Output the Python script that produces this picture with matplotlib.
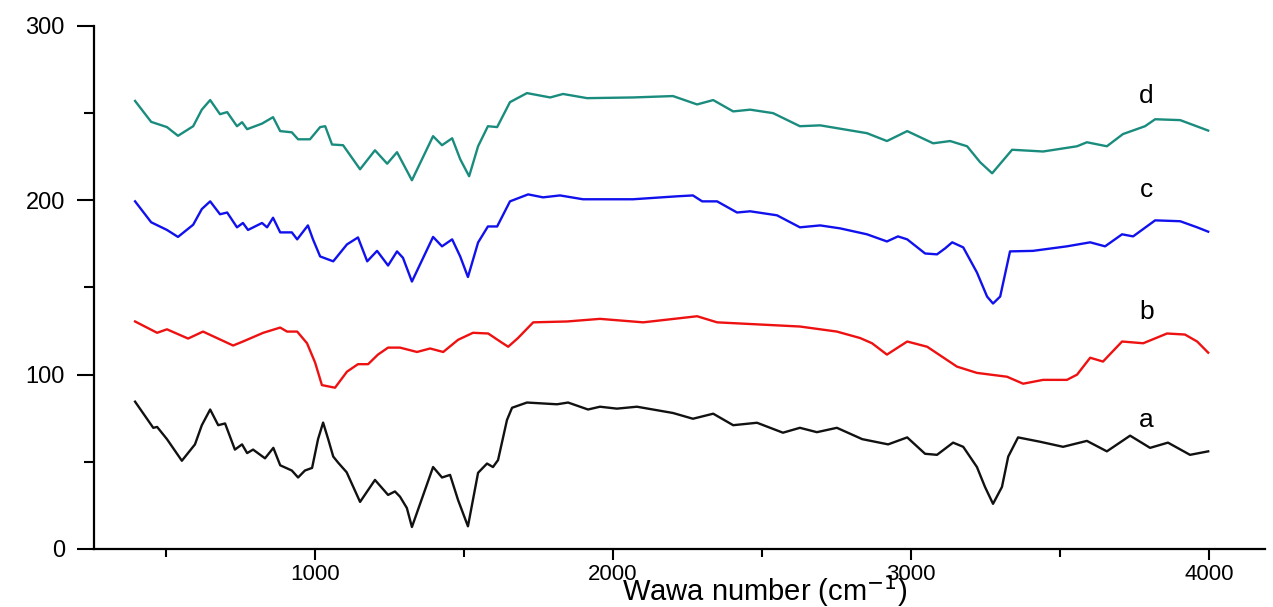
import matplotlib.pyplot as plt
from matplotlib.ticker import MultipleLocator

plt.rcParams['font.family'] = ['Liberation Sans', 'DejaVu Sans']

# spectrum a (black)
a_x = [396, 457, 470, 503, 553, 597, 620, 648, 675, 698, 731, 755, 772, 792, 832, 860,
       883, 922, 943, 966, 990, 1010, 1027, 1044, 1061, 1078, 1106, 1151, 1201, 1245,
       1268, 1285, 1308, 1325, 1396, 1426, 1453, 1480, 1513, 1547, 1577, 1597, 1614,
       1644, 1661, 1711, 1812, 1849, 1916, 1956, 2013, 2080, 2201, 2268, 2336, 2403,
       2483, 2570, 2627, 2684, 2751, 2836, 2923, 2987, 3047, 3087, 3141, 3175, 3221,
       3248, 3275, 3305, 3326, 3359, 3433, 3510, 3590, 3657, 3735, 3802, 3862, 3936, 3997]
a_y = [84.5, 69.5, 70, 63, 50.6, 60, 71, 80, 71, 72, 57, 60, 55, 57, 52, 58,
       48, 45, 41, 45, 46.5, 63, 72.5, 63, 53, 49.4, 44, 27, 39.6, 31,
       33, 30, 23.5, 12.6, 47, 41, 42.5, 28, 13, 43.7, 49, 47, 51,
       74, 81, 84, 83, 84, 80, 81.6, 80.5, 81.6, 78, 74.7, 77.6, 71,
       72.4, 66.7, 69.5, 67, 69.5, 63, 60, 64, 54.6, 54, 61, 58.6, 47,
       35.6, 25.9, 35.6, 53, 64, 61.5, 58.6, 62, 56, 65, 58, 61, 54, 56]

# spectrum b (red)
b_x = [396, 470, 503, 574, 624, 725, 758, 826, 883, 906, 940, 973, 1000, 1023, 1067,
       1107, 1144, 1178, 1211, 1245, 1285, 1342, 1386, 1430, 1480, 1530, 1581, 1621,
       1648, 1681, 1732, 1846, 1956, 2101, 2282, 2349, 2627, 2751, 2829, 2869, 2919,
       2987, 3054, 3154, 3221, 3322, 3376, 3443, 3523, 3557, 3601, 3644, 3708, 3779,
       3859, 3919, 3960, 3997]
b_y = [130.5, 124, 126, 120.7, 124.7, 116.7, 119, 124, 127, 124.7, 124.7, 118, 107, 94, 92.5,
       101.7, 106, 106, 111.5, 115.5, 115.5, 113, 115, 113, 120, 124, 123.6, 119,
       116, 121, 130, 130.5, 132, 130, 133.5, 130, 127.6, 124.7, 121, 118, 111.5,
       119, 116, 104.6, 101, 98.8, 94.8, 97, 97, 100, 109.7, 107.5, 119, 118,
       123.6, 123, 119, 112.6]

# spectrum c (blue)
c_x = [396, 450, 503, 540, 591, 620, 648, 681, 705, 738, 758, 775, 822, 839, 859, 883,
       922, 940, 976, 993, 1017, 1061, 1107, 1144, 1175, 1208, 1245, 1275, 1295, 1325,
       1396, 1426, 1460, 1487, 1513, 1547, 1580, 1611, 1654, 1715, 1765, 1822, 1899,
       2067, 2215, 2268, 2299, 2349, 2416, 2460, 2550, 2627, 2695, 2762, 2852, 2919,
       2956, 2987, 3047, 3087, 3114, 3138, 3175, 3221, 3255, 3275, 3299, 3332, 3409,
       3523, 3601, 3651, 3708, 3745, 3819, 3903, 3960, 3997]
c_y = [199.4, 187.4, 183, 179, 186, 195, 199.4, 192, 193, 184.5, 187, 183, 187, 184.5, 190, 181.6,
       181.6, 177.6, 185.6, 177.6, 167.8, 165, 174.7, 178.7, 165, 171, 162.6, 170.7, 167, 153.4,
       179, 173.6, 177.6, 167.8, 156, 175.8, 185, 185, 199.4, 203.4, 201.7, 202.8, 200.6,
       200.6, 202.3, 202.8, 199.4, 199.4, 193, 193.7, 191.4, 184.5, 185.6, 183.9, 180.5, 176.4,
       179.3, 177.6, 169.5, 169, 172.4, 175.9, 173, 158.6, 144.8, 140.8, 144.8, 170.7, 171,
       173.6, 175.9, 173.6, 180.5, 179.3, 188.5, 188, 184.5, 182]

# spectrum d (teal)
d_x = [396, 450, 503, 540, 591, 620, 648, 681, 705, 738, 755, 772, 822, 859, 883, 922,
       943, 983, 1017, 1034, 1057, 1094, 1151, 1201, 1242, 1275, 1325, 1396, 1426, 1460,
       1487, 1517, 1547, 1580, 1611, 1654, 1711, 1789, 1832, 1913, 2067, 2201, 2282,
       2336, 2403, 2460, 2537, 2627, 2695, 2852, 2919, 2987, 3074, 3131, 3188, 3232,
       3272, 3339, 3443, 3557, 3590, 3657, 3711, 3785, 3819, 3903, 3997]
d_y = [257, 245, 242, 237, 242.5, 252, 257.5, 249.4, 250.6, 242.5, 244.8, 240.8, 244, 247.7, 239.7, 239,
       235, 235, 242, 242.5, 232, 231.6, 217.8, 228.7, 221, 227.6, 211.5, 236.8, 231.6, 235.6,
       223.6, 213.8, 231, 242.5, 242, 256.3, 261.5, 259, 261, 258.6, 259, 259.8, 255,
       257.5, 251, 252, 250, 242.5, 243, 238.5, 234, 239.7, 232.7, 234, 231, 221.8,
       215.5, 229, 228, 231, 233.3, 231, 238, 242.5, 246.5, 246, 240]

labels = ['a', 'b', 'c', 'd']
label_y = [74, 136, 206, 260]
colors = ['#111111', '#ee1111', '#1111ee', '#1a8c7e']

fig = plt.figure(figsize=(12.73, 6.07), dpi=100)
ax = fig.add_axes([0.0738, 0.0956, 0.92, 0.8616])

for xs, ys, c in zip([a_x, b_x, c_x, d_x], [a_y, b_y, c_y, d_y], colors):
    ax.plot(xs, ys, color=c, lw=1.7)

for lab, ly in zip(labels, label_y):
    ax.text(3790, ly, lab, fontsize=19, ha='center', va='center')

ax.set_xlim(258, 4188)
ax.set_ylim(0, 300)
ax.xaxis.set_major_locator(MultipleLocator(1000))
ax.xaxis.set_minor_locator(MultipleLocator(500))
ax.yaxis.set_major_locator(MultipleLocator(100))
ax.yaxis.set_minor_locator(MultipleLocator(50))

ax.spines['top'].set_visible(False)
ax.spines['right'].set_visible(False)
for s in ['left', 'bottom']:
    ax.spines[s].set_linewidth(1.6)

ax.tick_params(axis='y', which='major', length=12, width=1.5, pad=9, labelsize=17)
ax.tick_params(axis='y', which='minor', length=7, width=1.5)
ax.tick_params(axis='x', which='major', length=8, width=1.5, pad=3, labelsize=16)
ax.tick_params(axis='x', which='minor', length=5.5, width=1.5)

ax.set_xlabel('Wawa number (cm$^{-1}$)', fontsize=21)
ax.xaxis.label.set_va('baseline')
ax.xaxis.set_label_coords(0.573, -0.1)

fig.savefig('out.png', dpi=100)
